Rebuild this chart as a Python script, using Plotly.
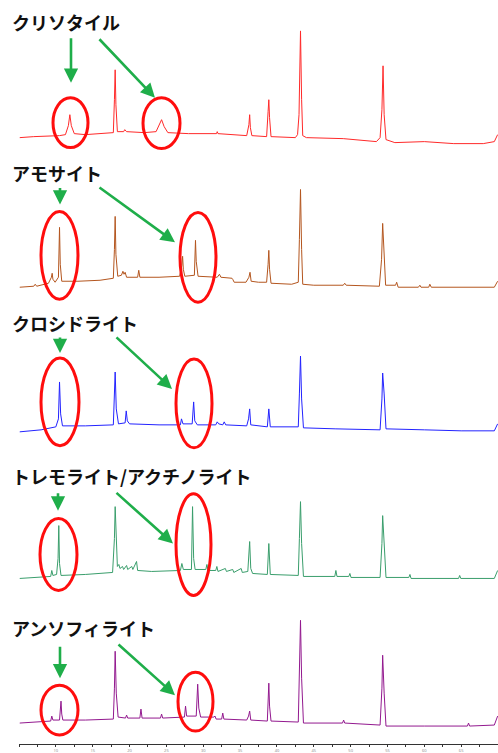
import plotly.graph_objects as go

# ---------------- data ----------------
mineral_names = ["クリソタイル", "アモサイト", "クロシドライト",
                 "トレモライト/アクチノライト", "アンソフィライト"]
line_colors = ["#ff2a2a", "#b4561f", "#2323ff", "#3a9e6c", "#93198f"]

tick_values = [10, 15, 20, 25, 30, 35, 40, 45, 50, 55, 60, 65]
tick_labels = ["10", "15", "20", "25", "30", "35", "40", "45", "50", "55", "60", "65"]

chrysotile_x = [5.1, 7.0, 10.5, 11.3, 11.7, 11.9, 12.1, 12.5, 14.0, 16.0, 17.8, 17.95, 18.05, 18.15,
                18.35, 19.2, 19.35, 19.6, 22.0, 23.6, 24.0, 24.35, 24.7, 25.2, 28.0, 31.8, 31.9, 32.0,
                35.9, 36.2, 36.3, 36.4, 36.6, 38.6, 38.8, 38.9, 39.0, 39.2, 42.5, 42.8, 43.0, 43.2,
                43.35, 43.5, 44.0, 49.0, 53.5, 54.0, 54.25, 54.4, 54.55, 54.8, 56.0, 60.0, 64.0, 68.0,
                69.5, 69.95]
chrysotile_y = [7, 8, 9, 10, 19, 30, 19, 11, 10, 11, 12, 45, 75, 40,
                13, 13, 15, 13, 12, 13, 19, 25, 18, 12, 11, 11, 13, 11,
                9, 20, 30, 17, 9, 8, 33, 45, 27, 8, 7, 10, 30, 114,
                45, 9, 7, 6, 3, 7, 35, 79, 30, 5, 2, 3, 1, 1,
                3, 10]

amosite_x = [5.1, 7.0, 7.2, 7.4, 9.0, 9.4, 9.5, 9.6, 9.9, 10.35, 10.5, 10.6, 10.8, 13.0, 16.0,
             17.8, 17.95, 18.05, 18.15, 18.4, 18.9, 19.1, 19.25, 19.4, 19.6, 21.1, 21.25, 21.4,
             24.0, 26.8, 27.1, 27.2, 27.3, 27.5, 28.8, 28.95, 29.05, 29.3, 31.9, 32.2, 32.4,
             33.9, 34.0, 34.2, 35.8, 36.2, 36.35, 36.5, 37.5, 38.6, 38.8, 38.9, 39.0, 39.2,
             42.0, 42.9, 43.05, 43.2, 43.35, 43.5, 45.0, 49.0, 49.2, 49.4, 53.9, 54.2, 54.35,
             54.5, 54.75, 56.1, 56.25, 56.45, 59.2, 59.4, 59.55, 60.6, 60.75, 60.95, 65.0, 69.5,
             69.95]
amosite_y = [4, 5, 7, 5, 8, 14, 18, 12, 9, 14, 64, 27, 10, 10, 11,
             13, 42, 75, 37, 15, 16, 20, 17, 19, 14, 14, 21, 14,
             14, 15, 26, 35, 22, 15, 16, 51, 30, 15, 14, 17, 14,
             13, 12, 9, 9, 14, 19, 10, 9, 9, 27, 41, 22, 8,
             7, 9, 52, 102, 42, 7, 6, 6, 8, 6, 5, 32, 68,
             37, 6, 6, 9, 4, 4, 6, 4, 4, 7, 4, 4, 4,
             10]

crocidolite_x = [5.1, 8.0, 10.0, 10.35, 10.5, 10.65, 10.9, 14.0, 17.8, 17.95, 18.05, 18.2, 18.5,
                 19.4, 19.55, 19.7, 20.0, 24.0, 26.9, 27.05, 27.25, 28.5, 28.7, 28.85, 29.2,
                 31.7, 31.9, 32.1, 32.65, 32.85, 33.05, 35.9, 36.15, 36.3, 36.45, 38.7, 38.9,
                 39.1, 42.9, 43.05, 43.2, 43.35, 43.6, 48.0, 54.0, 54.25, 54.35, 54.55, 54.8,
                 60.0, 65.0, 69.5, 69.95]
crocidolite_y = [4, 6, 9, 17, 54, 22, 10, 10, 11, 37, 64, 27, 12,
                 13, 25, 15, 12, 11, 11, 17, 12, 12, 34, 15, 11,
                 11, 14, 12, 11, 14, 11, 10, 17, 27, 11, 9, 27,
                 9, 9, 42, 80, 37, 8, 7, 6, 37, 63, 42, 7,
                 6, 5, 5, 12]

tremolite_x = [5.1, 8.0, 9.3, 9.45, 9.6, 10.1, 10.3, 10.4, 10.5, 10.7, 14.0, 17.7, 17.95, 18.05,
               18.2, 18.35, 18.55, 18.7, 19.05, 19.2, 19.6, 19.75, 20.3, 20.45, 20.95, 21.1, 23.0,
               26.9, 27.1, 27.3, 28.4, 28.55, 28.7, 28.9, 30.35, 30.5, 30.65, 31.7, 31.85, 32.0,
               33.0, 33.15, 34.0, 34.15, 35.15, 35.3, 36.05, 36.2, 36.3, 36.45, 36.7, 38.7, 38.9,
               39.1, 42.9, 43.05, 43.2, 43.35, 43.6, 47.85, 48.0, 48.15, 49.75, 49.9, 50.05, 54.0,
               54.25, 54.35, 54.55, 54.8, 57.9, 58.05, 58.2, 64.65, 64.8, 64.95, 69.5, 69.95]
tremolite_y = [4, 5, 6, 12, 7, 8, 24, 57, 19, 7, 8, 10, 44, 76,
               39, 16, 18, 14, 16, 13, 17, 13, 16, 13, 21, 12, 11,
               12, 19, 13, 13, 76, 24, 13, 13, 18, 12, 12, 16, 11,
               14, 11, 13, 10, 14, 10, 11, 29, 41, 14, 9, 8, 39,
               8, 7, 44, 81, 39, 6, 6, 12, 6, 6, 9, 5, 5,
               39, 67, 34, 5, 5, 8, 4, 4, 7, 4, 4, 12]

anthophyllite_x = [5.1, 8.0, 9.3, 9.45, 9.6, 10.5, 10.6, 10.7, 10.8, 10.95, 14.0, 17.8, 17.95,
                   18.05, 18.2, 18.45, 19.45, 19.6, 19.75, 21.4, 21.55, 21.7, 24.2, 24.35, 24.5,
                   27.45, 27.6, 27.75, 29.05, 29.25, 29.4, 29.65, 31.45, 31.6, 31.75, 32.5, 32.65,
                   32.8, 35.9, 36.15, 36.3, 36.45, 38.7, 38.8, 38.9, 39.0, 39.2, 42.9, 43.05, 43.2,
                   43.35, 43.6, 48.9, 49.05, 49.2, 54.0, 54.25, 54.35, 54.55, 54.8, 60.0, 65.85,
                   66.0, 66.15, 69.5, 69.95]
anthophyllite_y = [5, 6, 7, 12, 8, 8, 15, 27, 14, 8, 8, 9, 40,
                   77, 35, 11, 10, 13, 10, 10, 19, 10, 10, 14, 10,
                   11, 22, 12, 12, 44, 20, 11, 11, 12, 9, 9, 15,
                   9, 8, 12, 17, 8, 7, 25, 45, 22, 7, 6, 60, 108,
                   50, 5, 5, 8, 5, 3, 40, 73, 35, 2, 2, 2,
                   5, 2, 3, 12]

series_x = [chrysotile_x, amosite_x, crocidolite_x, tremolite_x, anthophyllite_x]
series_y = [chrysotile_y, amosite_y, crocidolite_y, tremolite_y, anthophyllite_y]

# ---------------- layout geometry (pixels of the 498x753 page) ----------------
W, H = 498, 753
ML, MB = 19, 7
PW, PH = W - ML, H - MB          # plot area 479 x 746
X_RANGE = [5, 70]


def xp(px):
    return (px - ML) / PW


def yp(py):
    return (PH - py) / PH


panel_zero_px = [145, 292, 437, 584, 730]
title_y_px = [22, 173, 324, 477, 630]
ellipses_px = [
    [(53, 98, 88, 148), (143, 98, 180, 149)],
    [(41, 212, 78, 300), (180, 213, 216, 303)],
    [(41, 359, 79, 447), (176, 360, 212, 449)],
    [(40, 520, 77, 592), (176, 495, 211, 597)],
    [(41, 687, 78, 737), (178, 674, 213, 733)],
]
arrows_px = [
    [(71, 37, 71, 83), (98, 38, 155, 98)],
    [(60, 187, 60, 205), (98, 187, 175, 243)],
    [(60, 337, 60, 354), (115, 337, 172, 390)],
    [(58, 493, 58, 512), (115, 493, 173, 545)],
    [(60, 647, 60, 680), (117, 645, 175, 697)],
]

fig = go.Figure()
for name, xs, ys, col, zero in zip(mineral_names, series_x, series_y, line_colors, panel_zero_px):
    offset = PH - zero
    fig.add_trace(go.Scatter(
        x=xs, y=[offset + v for v in ys], mode="lines", name=name,
        line=dict(color=col, width=1), hoverinfo="skip", showlegend=False))

shapes = []
annotations = []
for i, name in enumerate(mineral_names):
    annotations.append(dict(
        xref="paper", yref="paper", x=xp(10), y=yp(title_y_px[i]),
        xanchor="left", yanchor="middle", showarrow=False,
        text="<b>" + name + "</b>",
        font=dict(family="Noto Sans CJK JP", size=18, color="#111111")))
    for (x0, y0, x1, y1) in ellipses_px[i]:
        shapes.append(dict(type="circle", xref="paper", yref="paper",
                           x0=xp(x0), x1=xp(x1), y0=yp(y1), y1=yp(y0),
                           line=dict(color="#ff0d0d", width=3)))
    for (tx, ty, hx, hy) in arrows_px[i]:
        annotations.append(dict(
            xref="paper", yref="paper", x=xp(hx), y=yp(hy),
            ax=tx - hx, ay=ty - hy, text="", showarrow=True,
            arrowhead=2, arrowsize=1.1, arrowwidth=2.6, arrowcolor="#1fae4a",
            standoff=0))

fig.update_layout(
    width=W, height=H,
    margin=dict(l=ML, r=0, t=0, b=MB),
    paper_bgcolor="white", plot_bgcolor="white",
    shapes=shapes, annotations=annotations,
    xaxis=dict(range=X_RANGE, showgrid=False, zeroline=False,
               showline=True, linecolor="#333333", linewidth=1,
               ticks="outside", ticklen=2, tickcolor="#333333",
               tickvals=tick_values, ticktext=tick_labels,
               tickfont=dict(size=4, color="#888888"),
               minor=dict(dtick=2.5, tick0=5, ticks="outside", ticklen=2, tickcolor="#333333")),
    yaxis=dict(range=[0, PH], visible=False, fixedrange=True),
)

fig.write_html("out.html", config={"displayModeBar": False},
               post_script="document.body.style.margin='0px';document.body.style.overflow='hidden';")
